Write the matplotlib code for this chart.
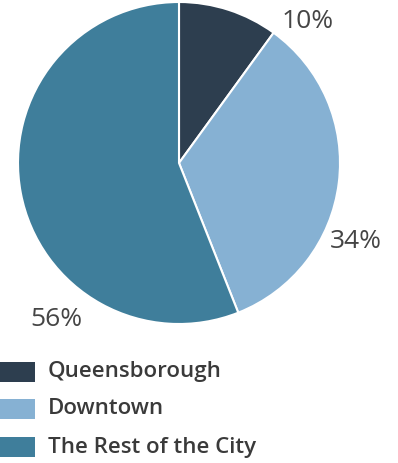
import matplotlib
matplotlib.use("Agg")
import matplotlib.pyplot as plt
from matplotlib.patches import Rectangle

areas = ["Queensborough", "Downtown", "The Rest of the City"]
shares = [10, 34, 56]
colors = ["#2d3e4f", "#86b1d3", "#3f7e9b"]

# label anchor positions in pie-radius units
label_pos = [(0.80, 0.88), (1.10, -0.49), (-0.76, -0.97)]

plt.rcParams["font.family"] = ["Open Sans", "DejaVu Sans"]

W, H = 398, 463
fig = plt.figure(figsize=(W / 100, H / 100), dpi=100)

cx, cy, r = 179, 163, 161
ax = fig.add_axes([(cx - r) / W, (H - cy - r) / H, 2 * r / W, 2 * r / H])
ax.pie(
    shares,
    colors=colors,
    startangle=90,
    counterclock=False,
    radius=1,
    wedgeprops=dict(edgecolor="white", linewidth=1.5),
)
ax.set_xlim(-1, 1)
ax.set_ylim(-1, 1)
ax.set_aspect("equal")
ax.axis("off")

for value, (x, y) in zip(shares, label_pos):
    ax.text(x, y, f"{value}%", ha="center", va="center",
            fontsize=19, color="#454545", clip_on=False)

# legend drawn in pixel space at the bottom
lax = fig.add_axes([0, 0, 1, 1])
lax.set_xlim(0, W)
lax.set_ylim(H, 0)
lax.axis("off")
row_y = [372, 409, 447]
for name, color, y in zip(areas, colors, row_y):
    lax.add_patch(Rectangle((0, y - 10), 35, 20, facecolor=color, edgecolor="none"))
    lax.text(48, y, name, ha="left", va="center", fontsize=16,
             fontweight="semibold", color="#3a3a3a")

fig.savefig("out.png", dpi=100, facecolor="white")
